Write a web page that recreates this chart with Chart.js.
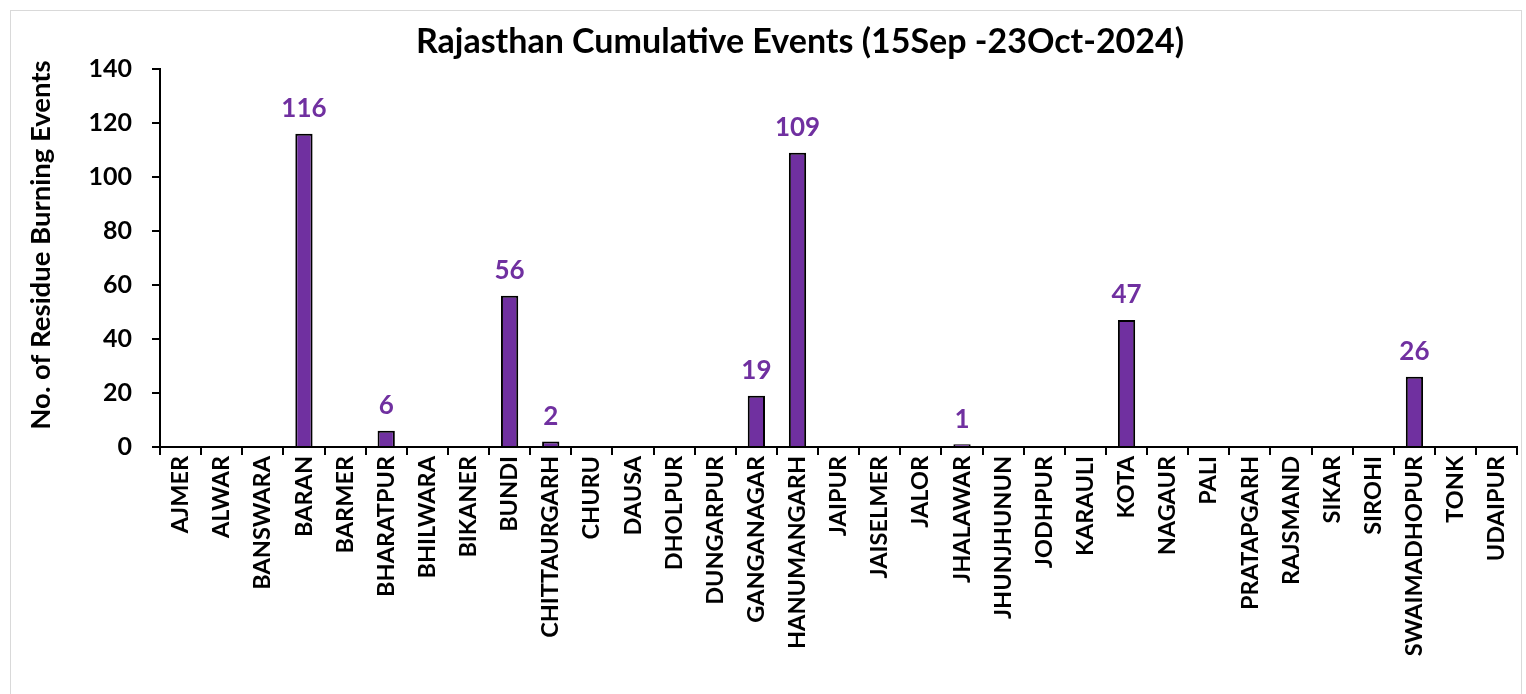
<!DOCTYPE html>
<html>
<head>
<meta charset="utf-8">
<script src="https://cdn.jsdelivr.net/npm/chart.js@4.4.1/dist/chart.umd.min.js"></script>
<style>
  html, body { margin: 0; padding: 0; background: #fff; }
  #wrap { position: relative; width: 1526px; height: 694px; }
  #frame { position: absolute; left: 10px; top: 10px; width: 1512px; height: 690px; border: 1px solid #d9d9d9; box-sizing: border-box; }
  canvas { position: absolute; left: 0; top: 0; }
</style>
</head>
<body>
<div id="wrap">
  <div id="frame"></div>
  <canvas id="c" width="1526" height="694"></canvas>
</div>
<script>
// Distritos y eventos acumulados de quema de residuos (15 Sep - 23 Oct 2024)
const districts = ["AJMER", "ALWAR", "BANSWARA", "BARAN", "BARMER", "BHARATPUR", "BHILWARA", "BIKANER",
  "BUNDI", "CHITTAURGARH", "CHURU", "DAUSA", "DHOLPUR", "DUNGARPUR", "GANGANAGAR", "HANUMANGARH",
  "JAIPUR", "JAISELMER", "JALOR", "JHALAWAR", "JHUNJHUNUN", "JODHPUR", "KARAULI", "KOTA", "NAGAUR",
  "PALI", "PRATAPGARH", "RAJSMAND", "SIKAR", "SIROHI", "SWAIMADHOPUR", "TONK", "UDAIPUR"];
const events = [0, 0, 0, 116, 0, 6, 0, 0, 56, 2, 0, 0, 0, 0, 19, 109, 0, 0, 0, 1, 0, 0, 0, 47, 0,
  0, 0, 0, 0, 0, 26, 0, 0];
const yTicks = [0, 20, 40, 60, 80, 100, 120, 140];

const TITLE = "Rajasthan Cumulative Events (15Sep -23Oct-2024)";
const Y_TITLE = "No. of Residue Burning Events";
const PURPLE = "#7030A0";
const FONT = "Lato";

// Etiquetas de valor encima de cada barra distinta de cero + títulos
const valueLabels = {
  id: "valueLabels",
  afterDatasetsDraw(chart) {
    const ctx = chart.ctx;
    const meta = chart.getDatasetMeta(0);
    ctx.save();
    ctx.fillStyle = PURPLE;
    ctx.font = `bold 26px ${FONT}`;
    ctx.textAlign = "center";
    ctx.textBaseline = "bottom";
    meta.data.forEach((bar, i) => {
      const v = events[i];
      if (!v) return;
      ctx.fillText(String(v), bar.x, bar.y - 12);
    });
    // título del gráfico (Excel lo deja un poco a la derecha del centro)
    ctx.fillStyle = "#000";
    ctx.textBaseline = "middle";
    ctx.font = `bold 34px ${FONT}`;
    ctx.fillText(TITLE, 800, 42);
    // título del eje Y
    ctx.translate(41, 245);
    ctx.rotate(-Math.PI / 2);
    ctx.font = `bold 27.5px ${FONT}`;
    ctx.fillText(Y_TITLE, 0, 0);
    ctx.restore();
  },
};

new Chart(document.getElementById("c"), {
  type: "bar",
  data: {
    labels: districts,
    datasets: [{
      data: events,
      backgroundColor: PURPLE,
      borderColor: "#000",
      borderWidth: 2,
      borderSkipped: "bottom",
      barPercentage: 0.42,
      categoryPercentage: 1,
    }],
  },
  options: {
    responsive: false,
    animation: false,
    layout: { padding: { top: 69, right: 6, bottom: 0, left: 10 } },
    plugins: {
      legend: { display: false },
      tooltip: { enabled: false },
      title: { display: false },
    },
    scales: {
      x: {
        offset: true,
        afterFit(scale) { scale.height = 247; },
        grid: { display: true, drawOnChartArea: false, drawTicks: true, tickLength: 8, color: "#000", lineWidth: 2, offset: true },
        border: { display: true, color: "#000", width: 2 },
        ticks: {
          color: "#000",
          autoSkip: false,
          maxRotation: 90,
          minRotation: 90,
          padding: 1,
          font: { family: FONT, size: 23.5, weight: "bold" },
        },
      },
      y: {
        min: 0,
        max: 140,
        afterFit(scale) { scale.width = 150; },
        afterBuildTicks(scale) { scale.ticks = yTicks.map((v) => ({ value: v })); },
        grid: { display: true, drawOnChartArea: false, drawTicks: true, tickLength: 8, color: "#000", lineWidth: 2 },
        border: { display: true, color: "#000", width: 2 },
        ticks: { color: "#000", padding: 20, font: { family: FONT, size: 25, weight: "bold" } },
      },
    },
  },
  plugins: [valueLabels],
});
</script>
</body>
</html>
